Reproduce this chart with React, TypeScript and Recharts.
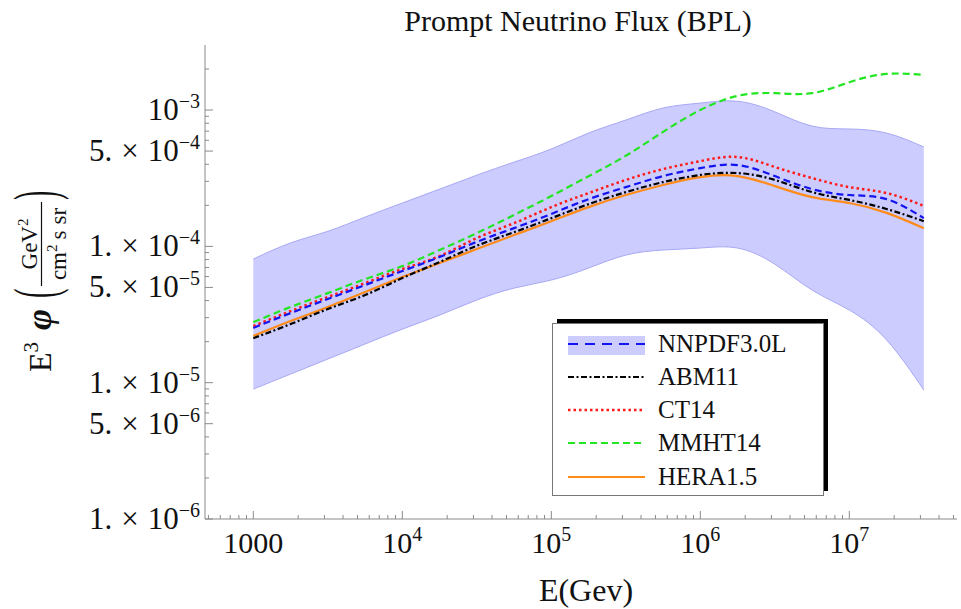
import { ComposedChart, Area, Line, XAxis, YAxis } from 'recharts';

// energies in GeV (sampled every quarter decade)
const ENERGY = [
  1000, 1778, 3162, 5623, 10000, 17783, 31623, 56234, 100000, 177828, 316228,
  562341, 1000000, 1778279, 3162278, 5623413, 10000000, 17782794, 31622777,
];

// NNPDF3.0L uncertainty band
const BAND_LOW = [
  8.97e-6, 1.156e-5, 1.49e-5, 1.92e-5, 2.47e-5, 3.13e-5, 4.04e-5, 4.94e-5, 5.66e-5,
  6.93e-5, 8.63e-5, 9.4e-5, 9.72e-5, 9.72e-5, 7.4e-5, 4.78e-5, 3.41e-5, 2.06e-5, 8.83e-6,
];
const BAND_HIGH = [
  8.07e-5, 1.06e-4, 1.29e-4, 1.64e-4, 2.08e-4, 2.63e-4, 3.33e-4, 4.15e-4, 5.18e-4,
  6.78e-4, 8.45e-4, 1.035e-3, 1.125e-3, 1.16e-3, 9.7e-4, 7.63e-4, 7.26e-4, 6.78e-4, 5.36e-4,
];

const NNPDF = [
  2.52e-5, 3.24e-5, 4.11e-5, 5.2e-5, 6.59e-5, 8.35e-5, 1.08e-4, 1.36e-4, 1.73e-4,
  2.22e-4, 2.72e-4, 3.28e-4, 3.75e-4, 3.95e-4, 3.28e-4, 2.63e-4, 2.38e-4, 2.22e-4, 1.61e-4,
];
const ABM11 = [
  2.12e-5, 2.69e-5, 3.47e-5, 4.39e-5, 5.85e-5, 7.67e-5, 1.01e-4, 1.27e-4, 1.61e-4,
  2.04e-4, 2.5e-4, 2.96e-4, 3.34e-4, 3.45e-4, 3.07e-4, 2.5e-4, 2.19e-4, 1.88e-4, 1.53e-4,
];
const CT14 = [
  2.6e-5, 3.35e-5, 4.25e-5, 5.38e-5, 6.82e-5, 8.49e-5, 1.15e-4, 1.48e-4, 1.94e-4,
  2.46e-4, 3.07e-4, 3.69e-4, 4.22e-4, 4.52e-4, 3.82e-4, 3.17e-4, 2.72e-4, 2.46e-4, 1.98e-4,
];
const MMHT14 = [
  2.78e-5, 3.59e-5, 4.54e-5, 5.75e-5, 7.17e-5, 9.4e-5, 1.25e-4, 1.7e-4, 2.34e-4,
  3.27e-4, 4.62e-4, 6.92e-4, 1.0e-3, 1.27e-3, 1.33e-3, 1.33e-3, 1.6e-3, 1.84e-3, 1.81e-3,
];
const HERA15 = [
  2.2e-5, 2.83e-5, 3.59e-5, 4.62e-5, 5.95e-5, 7.54e-5, 9.56e-5, 1.21e-4, 1.53e-4,
  1.94e-4, 2.38e-4, 2.82e-4, 3.22e-4, 3.28e-4, 2.77e-4, 2.3e-4, 2.08e-4, 1.76e-4, 1.36e-4,
];

const X_MAJOR = [1000, 1e4, 1e5, 1e6, 1e7];
const X_LABEL_BASE = ['1000', '10', '10', '10', '10'];
const X_LABEL_EXP = ['', '4', '5', '6', '7'];

const Y_MAJOR = [1e-6, 5e-6, 1e-5, 5e-5, 1e-4, 5e-4, 1e-3];
const Y_LABEL_MANT = ['1.', '5.', '1.', '5.', '1.', '5.', ''];
const Y_LABEL_EXP = ['−6', '−6', '−5', '−5', '−4', '−4', '−3'];

const X_DOMAIN = [474, 5.28e7];
const Y_DOMAIN = [1e-6, 3.0e-3];

const SERIES = [
  { key: 'hera', name: 'HERA1.5', color: '#ff8c1a', dash: undefined, width: 2.2 },
  { key: 'mmht', name: 'MMHT14', color: '#22e622', dash: '7 4', width: 2.2 },
  { key: 'ct14', name: 'CT14', color: '#ff1a1a', dash: '2.5 3', width: 2.5 },
  { key: 'nnpdf', name: 'NNPDF3.0L', color: '#1414f0', dash: '7 4', width: 2.2 },
  { key: 'abm', name: 'ABM11', color: '#000000', dash: '6 2.5 2 2.5', width: 2.2 },
];
const LEGEND_ORDER = ['nnpdf', 'abm', 'ct14', 'mmht', 'hera'];

const FRAME = '#8a8a8a';
const FONT = '"Liberation Serif", "Times New Roman", serif';

const rows = ENERGY.map((e, i) => ({
  e,
  band: [BAND_LOW[i], BAND_HIGH[i]],
  nnpdf: NNPDF[i],
  abm: ABM11[i],
  ct14: CT14[i],
  mmht: MMHT14[i],
  hera: HERA15[i],
}));

// 1..9 x 10^p inside the domain, for the log tick marks
function logTicks(lo: number, hi: number) {
  const out: number[] = [];
  for (let p = Math.floor(Math.log10(lo)); p <= Math.ceil(Math.log10(hi)); p++) {
    for (let m = 1; m < 10; m++) {
      const v = m * Math.pow(10, p);
      if (v >= lo && v <= hi) out.push(v);
    }
  }
  return out;
}
const X_TICKS = logTicks(X_DOMAIN[0], X_DOMAIN[1]);
const Y_TICKS = logTicks(Y_DOMAIN[0], Y_DOMAIN[1] * 0.999);

const findMajor = (list: number[], v: number) =>
  list.findIndex((m) => Math.abs(v / m - 1) < 1e-6);

function XTick(props: any) {
  const { x, y, payload, top } = props;
  const i = findMajor(X_MAJOR, payload.value);
  const len = i >= 0 ? 8 : 4;
  return (
    <g>
      <line x1={x} x2={x} y1={y} y2={top ? y + len : y - len} stroke={FRAME} />
      {!top && i >= 0 && (
        <text x={x} y={y + 34} textAnchor="middle" fontFamily={FONT} fontSize={30} fill="#111">
          {X_LABEL_BASE[i]}
          {X_LABEL_EXP[i] && (
            <tspan dy={-12} fontSize={20}>
              {X_LABEL_EXP[i]}
            </tspan>
          )}
        </text>
      )}
    </g>
  );
}

function YTick(props: any) {
  const { x, y, payload, right } = props;
  const i = findMajor(Y_MAJOR, payload.value);
  const len = i >= 0 ? 8 : 4;
  return (
    <g>
      <line x1={x} x2={right ? x - len : x + len} y1={y} y2={y} stroke={FRAME} />
      {!right && i >= 0 && (
        <text x={200} y={y + 10} textAnchor="end" fontFamily={FONT} fontSize={31} fill="#111">
          {Y_LABEL_MANT[i] && (
            <>
              {Y_LABEL_MANT[i]}
              <tspan dx={9}>×</tspan>
              <tspan dx={9}>10</tspan>
            </>
          )}
          {!Y_LABEL_MANT[i] && '10'}
          <tspan dy={-12} fontSize={20}>
            {Y_LABEL_EXP[i]}
          </tspan>
        </text>
      )}
    </g>
  );
}

function Overlay() {
  const rowY = [344, 377, 410, 443, 477];
  return (
    <svg
      width={961}
      height={609}
      style={{ position: 'absolute', left: 0, top: 0, pointerEvents: 'none' }}
      fontFamily={FONT}
    >
      <text x={578} y={31} textAnchor="middle" fontSize={30} fill="#111">
        Prompt Neutrino Flux (BPL)
      </text>
      <text x={586} y={601} textAnchor="middle" fontSize={32} fill="#111">
        E(Gev)
      </text>

      {/* y axis title, rotated */}
      <g transform="translate(0,372) rotate(-90)" fill="#111">
        <text x={0} y={51} fontSize={32}>
          E
          <tspan dy={-13} fontSize={21}>3</tspan>
        </text>
        <text x={42} y={51} fontSize={36} fontStyle="italic" fontWeight="bold">
          φ
        </text>
        <text transform="translate(74,56) scale(0.45,1)" fontSize={62}>(</text>
        <text x={128} y={37} textAnchor="middle" fontSize={23}>
          GeV
          <tspan dy={-9} fontSize={15}>2</tspan>
        </text>
        <line x1={86} x2={170} y1={41.5} y2={41.5} stroke="#111" strokeWidth={1.2} />
        <text x={128} y={66} textAnchor="middle" fontSize={23}>
          cm
          <tspan dy={-9} fontSize={15}>2</tspan>
          <tspan dy={9} dx={5}>s</tspan>
          <tspan dx={6}>sr</tspan>
        </text>
        <text transform="translate(172,56) scale(0.45,1)" fontSize={62}>)</text>
      </g>

      {/* legend */}
      <rect x={557} y={319} width={271} height={172} fill="#000" />
      <rect x={552.5} y={323.5} width={271} height={172} fill="#fff" stroke="#777" />
      {LEGEND_ORDER.map((k, i) => {
        const s = SERIES.find((d) => d.key === k)!;
        return (
          <g key={k}>
            {k === 'nnpdf' && <rect x={568} y={336} width={77} height={19} fill="#ccccff" />}
            <line
              x1={568}
              x2={645}
              y1={rowY[i]}
              y2={rowY[i]}
              stroke={s.color}
              strokeWidth={s.width}
              strokeDasharray={k === 'nnpdf' ? '10 7' : s.dash}
            />
            <text x={658} y={rowY[i] + 8} fontSize={25} fill="#111">
              {s.name}
            </text>
          </g>
        );
      })}
    </svg>
  );
}

export default function App() {
  return (
    <div style={{ position: 'absolute', left: 0, top: 0, width: 961, height: 609, background: '#fff' }}>
      <ComposedChart width={961} height={609} data={rows} margin={{ top: 45, right: 4, bottom: 0, left: 0 }}>
        <XAxis
          xAxisId="b"
          dataKey="e"
          type="number"
          scale="log"
          domain={X_DOMAIN}
          allowDataOverflow
          ticks={X_TICKS}
          interval={0}
          height={90}
          tickSize={0}
          tickMargin={0}
          tickLine={false}
          axisLine={{ stroke: FRAME }}
          tick={(p: any) => <XTick {...p} />}
        />
        <XAxis
          xAxisId="t"
          orientation="top"
          dataKey="e"
          type="number"
          scale="log"
          domain={X_DOMAIN}
          allowDataOverflow
          ticks={X_TICKS}
          interval={0}
          height={0}
          tickSize={0}
          tickMargin={0}
          tickLine={false}
          axisLine={{ stroke: FRAME }}
          tick={(p: any) => <XTick {...p} top />}
        />
        <YAxis
          yAxisId="l"
          type="number"
          scale="log"
          domain={Y_DOMAIN}
          allowDataOverflow
          ticks={Y_TICKS}
          interval={0}
          width={205}
          tickSize={0}
          tickMargin={0}
          tickLine={false}
          axisLine={{ stroke: FRAME }}
          tick={(p: any) => <YTick {...p} />}
        />
        <YAxis
          yAxisId="r"
          orientation="right"
          type="number"
          scale="log"
          domain={Y_DOMAIN}
          allowDataOverflow
          ticks={Y_TICKS}
          interval={0}
          width={0}
          tickSize={0}
          tickMargin={0}
          tickLine={false}
          axisLine={{ stroke: FRAME }}
          tick={(p: any) => <YTick {...p} right />}
        />
        <Area
          xAxisId="b"
          yAxisId="l"
          dataKey="band"
          type="natural"
          stroke="#a8a8f4"
          strokeWidth={1}
          fill="#ccccff"
          fillOpacity={1}
          isAnimationActive={false}
          dot={false}
          activeDot={false}
        />
        {SERIES.map((s) => (
          <Line
            key={s.key}
            xAxisId="b"
            yAxisId="l"
            dataKey={s.key}
            name={s.name}
            type="natural"
            stroke={s.color}
            strokeWidth={s.width}
            strokeDasharray={s.dash}
            dot={false}
            activeDot={false}
            isAnimationActive={false}
          />
        ))}
      </ComposedChart>
      <Overlay />
    </div>
  );
}
